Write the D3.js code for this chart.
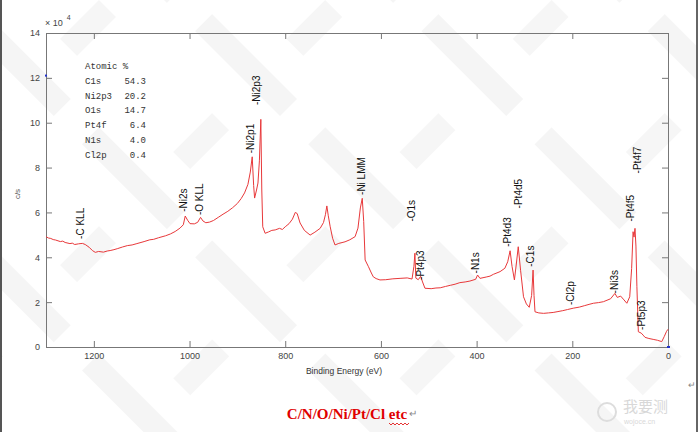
<!DOCTYPE html>
<html>
<head>
<meta charset="utf-8">
<script src="https://cdn.jsdelivr.net/npm/d3@7"></script>
<style>
  body { margin: 0; background: #fff; }
  svg { display: block; }
  .axis text { font-family: Arial, "Liberation Sans", sans-serif; font-size: 9px; fill: #444; }
  .axis line, .axis path { stroke: #777; }
</style>
</head>
<body>
<div id="chart"></div>
<script>
// spectrum, binding energy (eV) vs counts (x 10^4 c/s)
var energy = [1300,1295,1290,1285,1280,1270,1265,1260,1250,1245,1240,1232,1224,1218,1210,1203,1197,1190,1180,1172,1166,1158,1150,1140,1130,1120,1110,1095,1083,1075,1065,1050,1040,1030,1020,1013,1009,1004,999,990,983,977,972,966,958,950,940,930,920,910,900,892,885,878,873,869,866,864,860,857,854,851,849,847,842,835,828,821,812,806,800,792,785,779,775,769,760,748,738,727,720,716,713,710,706,701,696,688,675,665,654,648,643,639,636,633,626,620,616,610,602,590,575,560,545,535,531,529,527,522,517,513,508,495,485,476,465,455,445,435,424,414,402,398,393,380,372,365,351,341,335,330,326,321,317,313,308,302,296,290,285,282,280,278,270,260,250,240,230,220,210,198,185,175,165,156,145,135,120,111,106,99,92,86,80,76,73,71,69,67,65,62,56,52,48,40,31,22,13,8,3,0];
var counts = [4.92,4.86,4.84,4.79,4.77,4.70,4.72,4.66,4.61,4.63,4.57,4.60,4.62,4.57,4.45,4.30,4.22,4.26,4.23,4.28,4.30,4.34,4.39,4.46,4.52,4.55,4.61,4.70,4.78,4.80,4.87,4.96,5.04,5.15,5.30,5.45,5.84,5.65,5.50,5.49,5.56,5.78,5.62,5.54,5.57,5.64,5.78,5.92,6.05,6.21,6.40,6.62,6.87,7.25,7.80,8.48,7.20,6.64,7.00,7.31,8.30,10.15,7.00,5.36,5.07,5.13,5.20,5.22,5.29,5.24,5.36,5.50,5.70,6.00,5.95,5.53,5.20,4.99,5.12,5.29,5.55,5.90,6.29,5.85,5.36,4.85,4.55,4.62,4.69,4.78,4.92,5.30,6.20,6.63,5.60,3.88,3.58,3.30,3.13,3.05,2.99,3.00,3.04,3.06,3.08,3.03,3.60,4.18,3.07,3.00,3.15,2.90,2.62,2.60,2.63,2.64,2.70,2.75,2.80,2.87,2.90,2.94,3.02,3.21,3.06,3.12,3.16,3.24,3.36,3.51,3.80,4.29,3.60,2.99,3.70,4.47,3.40,2.24,1.92,1.77,2.30,3.43,2.30,1.57,1.52,1.50,1.52,1.54,1.58,1.62,1.67,1.73,1.78,1.84,1.90,1.95,1.98,2.02,2.15,2.39,2.21,2.27,2.10,1.95,2.24,3.50,5.14,4.90,5.29,4.50,2.69,0.68,0.62,0.53,0.43,0.38,0.34,0.30,0.24,0.46,0.70,0.79];

// peak labels: name, energy and count level of the label foot
var peakNames  = ["-C KLL","-Ni2s","-O KLL","-Ni2p1","-Ni2p3","-Ni LMM","-O1s","-Pt4p3","-N1s","-Pt4d3","-Pt4d5","-C1s","-Cl2p","-Ni3s","-Pt4f5","-Pt4f7","-Pt5p3"];
var peakEnergy = [1229,1013,979,872,860,641,537,518,403,335,313,287,203,112,79,65,55];
var peakLevel  = [4.82,6.03,5.88,8.64,10.79,6.78,5.59,2.99,3.28,4.47,6.18,3.58,1.87,2.39,5.59,7.74,0.76];

// atomic % table
var elements = ["C1s","Ni2p3","O1s","Pt4f","N1s","Cl2p"];
var atomicPct = ["54.3","20.2","14.7","6.4","4.0","0.4"];

var xTicks = [1200,1000,800,600,400,200,0];
var yTicks = [0,2,4,6,8,10,12,14];

var W = 698, H = 432;
var svg = d3.select("#chart").append("svg")
    .attr("width", W)
    .attr("height", H);

// faint watermark stripes in the background
var defs = svg.append("defs");
var pat = defs.append("pattern")
    .attr("id", "wm")
    .attr("patternUnits", "userSpaceOnUse")
    .attr("width", 160)
    .attr("height", 160)
    .attr("patternTransform", "rotate(45)");
pat.append("rect").attr("x", 0).attr("y", 20).attr("width", 120).attr("height", 24).attr("fill", "#f5f5f5");
pat.append("rect").attr("x", 70).attr("y", 90).attr("width", 24).attr("height", 55).attr("fill", "#f6f6f6");
svg.append("rect").attr("width", W).attr("height", H).attr("fill", "url(#wm)");

// side borders
svg.append("rect").attr("x", 0).attr("y", 0).attr("width", 2).attr("height", H).attr("fill", "#555");
svg.append("rect").attr("x", W - 2).attr("y", 0).attr("width", 2).attr("height", H).attr("fill", "#666");

var x = d3.scaleLinear().domain([1300, 0]).range([46, 668]);
var y = d3.scaleLinear().domain([0, 14]).range([347, 33]);

// axes (ticks inside, box all round)
svg.append("g").attr("class", "axis")
    .attr("transform", "translate(0," + y(0) + ")")
    .call(d3.axisBottom(x).tickValues(xTicks).tickFormat(d3.format("d")).tickSize(-6).tickSizeOuter(0).tickPadding(6));
svg.append("g").attr("class", "axis")
    .attr("transform", "translate(0," + y(14) + ")")
    .call(d3.axisTop(x).tickValues(xTicks).tickSize(-6).tickSizeOuter(0).tickFormat(""));
svg.append("g").attr("class", "axis")
    .attr("transform", "translate(" + x(1300) + ",0)")
    .call(d3.axisLeft(y).tickValues(yTicks).tickSize(-6).tickSizeOuter(0).tickPadding(6));
svg.append("g").attr("class", "axis")
    .attr("transform", "translate(" + x(0) + ",0)")
    .call(d3.axisRight(y).tickValues(yTicks).tickSize(-6).tickSizeOuter(0).tickFormat(""));

// little blue markers
svg.append("rect").attr("x", x(1300) - 1).attr("y", y(12.1) - 1).attr("width", 2).attr("height", 2).attr("fill", "#2233cc");
svg.append("rect").attr("x", x(0) - 1).attr("y", y(0) - 1).attr("width", 3).attr("height", 2).attr("fill", "#2233cc");

// x 10^4
var mult = svg.append("text")
    .attr("x", 45).attr("y", 26)
    .style("font-family", "Arial, sans-serif").style("font-size", "9px").style("fill", "#444");
mult.append("tspan").text("× 10");
mult.append("tspan").attr("dx", 4).attr("dy", -6).style("font-size", "7px").text("4");

// axis titles
svg.append("text")
    .attr("transform", "translate(20,194) rotate(-90)")
    .attr("text-anchor", "middle")
    .style("font-family", "Arial, sans-serif").style("font-size", "8px").style("fill", "#555")
    .text("c/s");
svg.append("text")
    .attr("x", 344).attr("y", 374)
    .attr("text-anchor", "middle")
    .style("font-family", "Arial, sans-serif").style("font-size", "8.5px").style("fill", "#333")
    .text("Binding Energy (eV)");

// spectrum line
var pts = energy.map(function(e, i) { return [e, counts[i]]; });
var line = d3.line()
    .x(function(d) { return x(d[0]); })
    .y(function(d) { return y(d[1]); });
svg.append("path")
    .datum(pts)
    .attr("d", line)
    .attr("fill", "none")
    .attr("stroke", "#e8383a")
    .attr("stroke-width", 1)
    .attr("stroke-linejoin", "round");

// peak labels, rotated
svg.selectAll(".peak")
    .data(peakNames)
    .enter().append("text")
      .attr("class", "peak")
      .attr("transform", function(d, i) {
        return "translate(" + x(peakEnergy[i]) + "," + y(peakLevel[i]) + ") rotate(-90)";
      })
      .attr("dy", "0.36em")
      .style("font-family", "Arial, 'Liberation Sans', sans-serif")
      .style("font-size", "10px")
      .style("fill", "#111")
      .text(function(d) { return d; });

// atomic % table
var tbl = svg.append("g")
    .style("font-family", "'Courier New', 'Liberation Mono', monospace")
    .style("font-size", "9px")
    .style("fill", "#333");
tbl.append("text").attr("x", 85).attr("y", 69).text("Atomic %");
tbl.selectAll(".el")
    .data(elements)
    .enter().append("text")
      .attr("x", 85)
      .attr("y", function(d, i) { return 84 + i * 14.7; })
      .text(function(d) { return d; });
tbl.selectAll(".pc")
    .data(atomicPct)
    .enter().append("text")
      .attr("x", 146)
      .attr("text-anchor", "end")
      .attr("y", function(d, i) { return 84 + i * 14.7; })
      .text(function(d) { return d; });

// caption under the chart
svg.append("text")
    .attr("x", 347).attr("y", 419)
    .attr("text-anchor", "middle")
    .style("font-family", "'Times New Roman', 'Liberation Serif', serif")
    .style("font-size", "15px").style("font-weight", "bold").style("fill", "#e00000")
    .text("C/N/O/Ni/Pt/Cl etc");
var wave = "M389,423";
for (var k = 0; k < 10; k++) wave += " l2," + (k % 2 ? -2 : 2);
svg.append("path").attr("d", wave).attr("fill", "none").attr("stroke", "#e00000").attr("stroke-width", 0.8);
svg.append("text")
    .attr("x", 409).attr("y", 417)
    .style("font-family", "Arial, sans-serif").style("font-size", "10px").style("fill", "#888")
    .text("↵");
svg.append("text")
    .attr("x", 688).attr("y", 388)
    .style("font-family", "Arial, sans-serif").style("font-size", "9px").style("fill", "#888")
    .text("↵");

// site watermark
svg.append("circle").attr("cx", 607).attr("cy", 412).attr("r", 9)
    .attr("fill", "none").attr("stroke", "#ddd").attr("stroke-width", 2);
svg.append("text")
    .attr("x", 623).attr("y", 412)
    .style("font-family", "'Noto Sans CJK SC', sans-serif").style("font-size", "15px").style("fill", "#d8d8d8")
    .text("我要测");
svg.append("text")
    .attr("x", 624).attr("y", 424)
    .style("font-family", "Arial, sans-serif").style("font-size", "7px").style("fill", "#d8d8d8")
    .text("wojoce.cn");
</script>
</body>
</html>
